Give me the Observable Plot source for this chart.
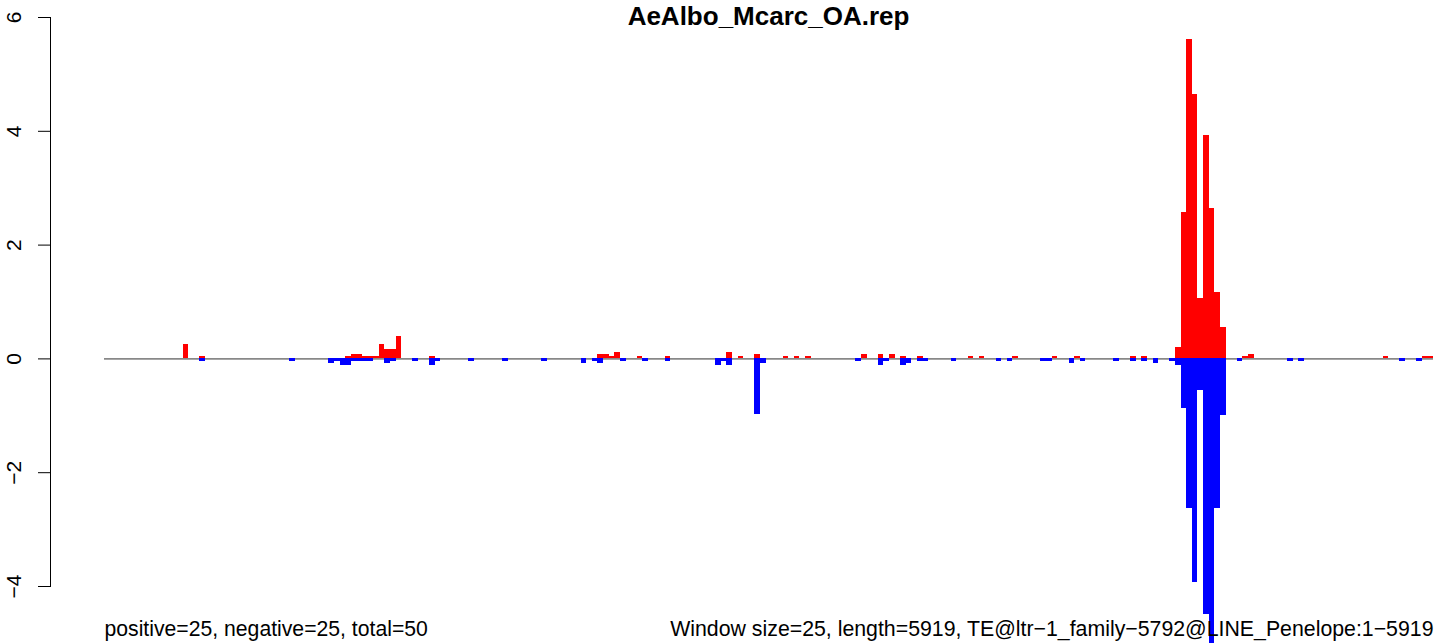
<!DOCTYPE html>
<html>
<head>
<meta charset="utf-8">
<script src="https://cdn.jsdelivr.net/npm/d3@7"></script>
<script src="https://cdn.jsdelivr.net/npm/@observablehq/plot@0.6"></script>
<style>
  html, body { margin: 0; padding: 0; background: #fff; overflow: hidden; }
  svg { overflow: hidden; }
</style>
</head>
<body>
<div id="chart"></div>
<script>
// ---- data ----
const titleText = "AeAlbo_Mcarc_OA.rep";
const leftNote = "positive=25, negative=25, total=50";
const rightNote = "Window size=25, length=5919, TE@ltr\u22121_family\u22125792@LINE_Penelope:1\u22125919";
const windowSize = 25;
const windowCount = 237;
const yTicks = [-4, -2, 0, 2, 4, 6];

// positive (sense) windows and values
const plusWindows = [14, 17, 43, 44, 45, 46, 47, 48, 49, 50, 51, 52, 58, 88, 89, 90, 91, 95, 100, 111, 113, 116, 121, 123, 125, 135, 138, 140, 142, 145, 154, 156, 162, 169, 173, 183, 185, 191, 192, 193, 194, 195, 196, 197, 198, 199, 203, 204, 228, 235, 236];
const plusValues  = [0.25, 0.04, 0.04, 0.08, 0.08, 0.04, 0.04, 0.04, 0.25, 0.17, 0.17, 0.39, 0.04, 0.08, 0.08, 0.04, 0.12, 0.04, 0.04, 0.12, 0.04, 0.08, 0.04, 0.04, 0.04, 0.08, 0.08, 0.08, 0.04, 0.04, 0.04, 0.04, 0.04, 0.04, 0.04, 0.04, 0.04, 0.20, 2.57, 5.61, 4.64, 1.06, 3.92, 2.64, 1.16, 0.56, 0.04, 0.08, 0.04, 0.04, 0.04];

// negative (antisense) windows and values
const minusWindows = [17, 33, 40, 41, 42, 43, 44, 45, 46, 47, 50, 51, 55, 58, 59, 65, 71, 78, 85, 87, 88, 92, 96, 100, 109, 110, 111, 116, 117, 134, 138, 139, 142, 143, 145, 146, 151, 159, 161, 167, 168, 172, 174, 180, 183, 185, 187, 190, 191, 192, 193, 194, 195, 196, 197, 198, 199, 202, 211, 213, 231, 234];
const minusValues  = [-0.05, -0.05, -0.08, -0.05, -0.11, -0.11, -0.05, -0.05, -0.05, -0.05, -0.08, -0.05, -0.05, -0.11, -0.05, -0.05, -0.05, -0.05, -0.08, -0.05, -0.08, -0.05, -0.05, -0.05, -0.11, -0.05, -0.11, -0.98, -0.08, -0.05, -0.11, -0.05, -0.11, -0.08, -0.05, -0.05, -0.05, -0.05, -0.05, -0.05, -0.05, -0.08, -0.05, -0.05, -0.05, -0.05, -0.08, -0.05, -0.11, -0.87, -2.63, -3.93, -0.56, -4.50, -5.30, -2.63, -1.00, -0.05, -0.05, -0.05, -0.05, -0.05];

const plusData = plusWindows.map((w, k) => ({w, v: plusValues[k]}));
const minusData = minusWindows.map((w, k) => ({w, v: minusValues[k]}));

const font = "'Liberation Sans', Arial, Helvetica, sans-serif";

const chart = Plot.plot({
  width: 1441,
  height: 643,
  marginLeft: 50,
  marginRight: 8,
  marginTop: 17,
  marginBottom: 57,
  style: {fontFamily: font, background: "#fff"},
  x: {domain: [0, windowCount * windowSize], insetLeft: 54, axis: null},
  y: {domain: [-4, 6], axis: null},
  marks: [
    Plot.frame({anchor: "left", stroke: "#000"}),
    Plot.axisY({ticks: yTicks, label: null, tickSize: 12, tickRotate: -90, tickPadding: 18, fontSize: 21, tickFormat: d3.format("d"), stroke: "#000", fill: "#000"}),
    Plot.ruleY([0], {x1: 0, x2: windowCount * windowSize, stroke: "#888", strokeWidth: 1.7}),
    Plot.rectY(plusData, {x1: d => d.w * windowSize, x2: d => (d.w + 1) * windowSize, y: "v", fill: "#ff0000", shapeRendering: "crispEdges"}),
    Plot.rectY(minusData, {x1: d => d.w * windowSize, x2: d => (d.w + 1) * windowSize, y: "v", fill: "#0000ff", shapeRendering: "crispEdges"}),
    Plot.text([titleText], {text: d => d, frameAnchor: "top", dx: 26.5, dy: 7, lineAnchor: "bottom", fontSize: 26, fontWeight: "bold", fill: "#000"}),
    Plot.text([leftNote], {text: d => d, frameAnchor: "bottom-left", dx: 54, dy: 49, textAnchor: "start", lineAnchor: "bottom", fontSize: 21.2, fill: "#000"}),
    Plot.text([rightNote], {text: d => d, frameAnchor: "bottom-right", dx: 0, dy: 49, textAnchor: "end", lineAnchor: "bottom", fontSize: 21.3, fill: "#000"})
  ]
});
document.getElementById("chart").appendChild(chart);
</script>
</body>
</html>
